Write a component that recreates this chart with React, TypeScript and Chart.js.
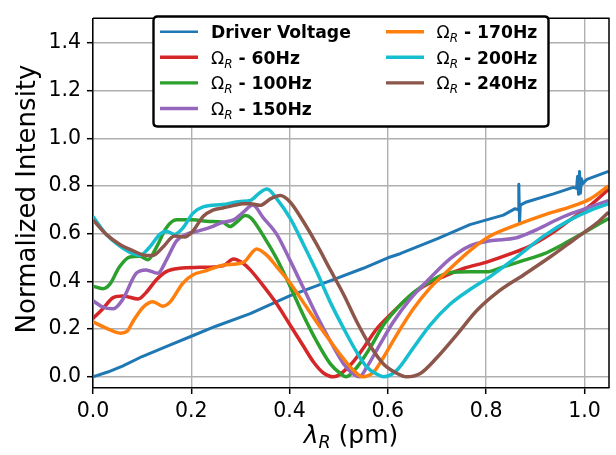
import React, { useEffect, useRef } from 'react';
import { Chart, registerables } from 'chart.js';

Chart.register(...registerables);

// ---- tick labels ----
const X_TICKS = [0, 0.2, 0.4, 0.6, 0.8, 1.0];
const Y_TICKS = [0, 0.2, 0.4, 0.6, 0.8, 1.0, 1.2, 1.4];

// ---- series ----
const driverX = [0, 0.03, 0.06, 0.1, 0.15, 0.2, 0.25, 0.32, 0.4, 0.489, 0.55, 0.6, 0.625, 0.7, 0.767, 0.801, 0.835, 0.859, 0.8655, 0.8665, 0.868, 0.8695, 0.882, 0.937, 0.977, 0.984, 0.986, 0.988, 0.99, 0.992, 0.994, 0.997, 1.005, 1.049];
const driverY = [0.0, 0.02, 0.045, 0.085, 0.128, 0.17, 0.212, 0.265, 0.339, 0.407, 0.455, 0.499, 0.516, 0.578, 0.638, 0.658, 0.678, 0.705, 0.7, 0.807, 0.644, 0.72, 0.733, 0.767, 0.794, 0.79, 0.84, 0.765, 0.861, 0.77, 0.83, 0.81, 0.828, 0.861];

const hz60X = [0, 0.02, 0.041, 0.061, 0.092, 0.108, 0.129, 0.149, 0.176, 0.217, 0.264, 0.286, 0.306, 0.32, 0.347, 0.374, 0.401, 0.428, 0.449, 0.469, 0.489, 0.523, 0.55, 0.577, 0.605, 0.638, 0.672, 0.713, 0.754, 0.801, 0.849, 0.89, 0.93, 0.971, 1.012, 1.049];
const hz60Y = [0.244, 0.285, 0.332, 0.339, 0.326, 0.353, 0.407, 0.441, 0.455, 0.459, 0.465, 0.494, 0.475, 0.448, 0.38, 0.305, 0.217, 0.129, 0.061, 0.016, 0.0, 0.048, 0.12, 0.2, 0.26, 0.325, 0.378, 0.42, 0.454, 0.481, 0.515, 0.549, 0.597, 0.658, 0.719, 0.786];

const hz100X = [0, 0.02, 0.034, 0.054, 0.075, 0.095, 0.112, 0.129, 0.149, 0.17, 0.203, 0.237, 0.264, 0.279, 0.293, 0.31, 0.322, 0.347, 0.374, 0.401, 0.428, 0.455, 0.483, 0.503, 0.515, 0.537, 0.564, 0.591, 0.618, 0.652, 0.686, 0.727, 0.767, 0.801, 0.835, 0.876, 0.917, 0.957, 0.998, 1.049];
const hz100Y = [0.38, 0.369, 0.387, 0.461, 0.502, 0.505, 0.491, 0.543, 0.624, 0.658, 0.658, 0.651, 0.648, 0.63, 0.65, 0.676, 0.665, 0.59, 0.495, 0.38, 0.258, 0.149, 0.054, 0.014, 0.0, 0.04, 0.122, 0.217, 0.285, 0.353, 0.4, 0.437, 0.44, 0.44, 0.461, 0.488, 0.515, 0.556, 0.603, 0.664];

const hz150X = [0, 0.02, 0.041, 0.061, 0.088, 0.108, 0.132, 0.149, 0.17, 0.19, 0.217, 0.244, 0.264, 0.286, 0.306, 0.325, 0.347, 0.374, 0.401, 0.428, 0.455, 0.483, 0.51, 0.53, 0.542, 0.557, 0.584, 0.611, 0.645, 0.686, 0.727, 0.767, 0.808, 0.862, 0.903, 0.957, 1.012, 1.049];
const hz150Y = [0.319, 0.292, 0.285, 0.326, 0.434, 0.448, 0.434, 0.488, 0.57, 0.597, 0.613, 0.631, 0.648, 0.658, 0.69, 0.72, 0.665, 0.597, 0.488, 0.373, 0.258, 0.149, 0.054, 0.011, 0.0, 0.04, 0.136, 0.23, 0.325, 0.414, 0.495, 0.549, 0.57, 0.583, 0.617, 0.671, 0.712, 0.739];

const hz170X = [0, 0.028, 0.056, 0.069, 0.081, 0.102, 0.122, 0.142, 0.156, 0.183, 0.203, 0.231, 0.264, 0.306, 0.333, 0.354, 0.374, 0.401, 0.428, 0.455, 0.483, 0.51, 0.53, 0.548, 0.571, 0.591, 0.618, 0.652, 0.686, 0.727, 0.767, 0.808, 0.862, 0.917, 0.971, 1.012, 1.049];
const hz170Y = [0.23, 0.203, 0.183, 0.19, 0.231, 0.292, 0.315, 0.296, 0.312, 0.393, 0.427, 0.445, 0.468, 0.48, 0.536, 0.509, 0.461, 0.393, 0.312, 0.23, 0.149, 0.075, 0.027, 0.0, 0.02, 0.081, 0.176, 0.285, 0.373, 0.454, 0.529, 0.59, 0.637, 0.678, 0.712, 0.746, 0.8];

const hz200X = [0, 0.027, 0.054, 0.081, 0.095, 0.115, 0.136, 0.149, 0.166, 0.183, 0.203, 0.224, 0.264, 0.3, 0.32, 0.34, 0.354, 0.374, 0.401, 0.428, 0.455, 0.483, 0.51, 0.537, 0.557, 0.578, 0.591, 0.618, 0.652, 0.686, 0.727, 0.767, 0.808, 0.862, 0.917, 0.971, 1.012, 1.049];
const hz200Y = [0.672, 0.597, 0.549, 0.516, 0.509, 0.543, 0.597, 0.61, 0.597, 0.624, 0.685, 0.712, 0.722, 0.735, 0.739, 0.773, 0.787, 0.746, 0.665, 0.556, 0.441, 0.312, 0.203, 0.102, 0.041, 0.011, 0.0, 0.027, 0.122, 0.217, 0.305, 0.366, 0.42, 0.502, 0.59, 0.658, 0.698, 0.725];

const hz240X = [0, 0.027, 0.054, 0.081, 0.108, 0.122, 0.142, 0.166, 0.186, 0.203, 0.224, 0.244, 0.264, 0.306, 0.32, 0.34, 0.361, 0.381, 0.401, 0.428, 0.455, 0.483, 0.51, 0.537, 0.564, 0.591, 0.618, 0.638, 0.666, 0.7, 0.74, 0.781, 0.822, 0.876, 0.93, 0.984, 1.025, 1.049];
const hz240Y = [0.658, 0.597, 0.556, 0.529, 0.509, 0.509, 0.543, 0.59, 0.586, 0.61, 0.672, 0.699, 0.708, 0.725, 0.726, 0.719, 0.746, 0.76, 0.733, 0.651, 0.556, 0.448, 0.345, 0.23, 0.13, 0.054, 0.015, 0.0, 0.014, 0.081, 0.176, 0.278, 0.353, 0.427, 0.502, 0.583, 0.644, 0.69];

const SERIES = [
  { key: 'Driver Voltage', hz: '', xs: driverX, ys: driverY, color: '#1f77b4', width: 3, legendWidth: 2.6, smooth: false },
  { key: '60Hz', hz: '60Hz', xs: hz60X, ys: hz60Y, color: '#d62728', width: 3.5, legendWidth: 3.4, smooth: true },
  { key: '100Hz', hz: '100Hz', xs: hz100X, ys: hz100Y, color: '#2ca02c', width: 3.5, legendWidth: 3.4, smooth: true },
  { key: '150Hz', hz: '150Hz', xs: hz150X, ys: hz150Y, color: '#9467bd', width: 3.5, legendWidth: 3.4, smooth: true },
  { key: '170Hz', hz: '170Hz', xs: hz170X, ys: hz170Y, color: '#ff7f0e', width: 3.5, legendWidth: 3.4, smooth: true },
  { key: '200Hz', hz: '200Hz', xs: hz200X, ys: hz200Y, color: '#17becf', width: 3.5, legendWidth: 3.4, smooth: true },
  { key: '240Hz', hz: '240Hz', xs: hz240X, ys: hz240Y, color: '#8c564b', width: 3.5, legendWidth: 3.4, smooth: true },
];

const FONT = '"DejaVu Sans", sans-serif';

const decorPlugin = {
  id: 'decor',
  afterDraw(chart: any) {
    const ctx: CanvasRenderingContext2D = chart.ctx;
    const a = chart.chartArea;
    ctx.save();
    // top + right spines
    ctx.strokeStyle = '#000';
    ctx.lineWidth = 1.5;
    ctx.beginPath();
    ctx.moveTo(a.left, a.top);
    ctx.lineTo(a.right, a.top);
    ctx.lineTo(a.right, a.bottom);
    ctx.stroke();

    // y-axis title
    ctx.fillStyle = '#000';
    ctx.save();
    ctx.translate(35, 199);
    ctx.rotate(-Math.PI / 2);
    ctx.font = `26px ${FONT}`;
    ctx.textAlign = 'center';
    ctx.textBaseline = 'alphabetic';
    ctx.fillText('Normalized Intensity', 0, 0);
    ctx.restore();

    // x-axis title: λ_R (pm)
    {
      const big = `italic 25px ${FONT}`;
      const sub = `italic 17.5px ${FONT}`;
      const reg = `25px ${FONT}`;
      ctx.font = big; const w1 = ctx.measureText('λ').width;
      ctx.font = sub; const w2 = ctx.measureText('R').width;
      ctx.font = reg; const w3 = ctx.measureText(' (pm)').width;
      const total = w1 + w2 + w3;
      let x = (a.left + a.right) / 2 - total / 2;
      const base = 443;
      ctx.textAlign = 'left';
      ctx.textBaseline = 'alphabetic';
      ctx.font = big; ctx.fillText('λ', x, base); x += w1;
      ctx.font = sub; ctx.fillText('R', x, base + 5); x += w2;
      ctx.font = reg; ctx.fillText(' (pm)', x, base);
    }

    // legend
    const bx = 153.5, by = 16.5, bw = 395, bh = 110, r = 4;
    ctx.beginPath();
    ctx.moveTo(bx + r, by);
    ctx.lineTo(bx + bw - r, by);
    ctx.quadraticCurveTo(bx + bw, by, bx + bw, by + r);
    ctx.lineTo(bx + bw, by + bh - r);
    ctx.quadraticCurveTo(bx + bw, by + bh, bx + bw - r, by + bh);
    ctx.lineTo(bx + r, by + bh);
    ctx.quadraticCurveTo(bx, by + bh, bx, by + bh - r);
    ctx.lineTo(bx, by + r);
    ctx.quadraticCurveTo(bx, by, bx + r, by);
    ctx.closePath();
    ctx.fillStyle = '#fff';
    ctx.fill();
    ctx.lineWidth = 2.4;
    ctx.strokeStyle = '#000';
    ctx.stroke();

    const cols = [
      { lx0: 160, lx1: 198, tx: 211 },
      { lx0: 386, lx1: 424, tx: 436.5 },
    ];
    SERIES.forEach((s, i) => {
      const col = i < 4 ? cols[0] : cols[1];
      const row = i < 4 ? i : i - 4;
      const cy = 31.7 + row * 25.6;
      ctx.strokeStyle = s.color;
      ctx.lineWidth = s.legendWidth;
      ctx.lineCap = 'butt';
      ctx.beginPath();
      ctx.moveTo(col.lx0, cy);
      ctx.lineTo(col.lx1, cy);
      ctx.stroke();
      ctx.fillStyle = '#000';
      ctx.textAlign = 'left';
      ctx.textBaseline = 'alphabetic';
      const base = cy + 6.4;
      let x = col.tx;
      if (!s.hz) {
        ctx.font = `bold 17.2px ${FONT}`;
        ctx.fillText(s.key, x, base);
      } else {
        ctx.font = `17.2px ${FONT}`;
        ctx.fillText('Ω', x, base);
        x += ctx.measureText('Ω').width;
        ctx.font = `italic 12px ${FONT}`;
        ctx.fillText('R', x, base + 4);
        x += ctx.measureText('R').width;
        ctx.font = `bold 17.2px ${FONT}`;
        ctx.fillText(' - ' + s.hz, x, base);
      }
    });
    ctx.restore();
  },
};

export default function App() {
  const ref = useRef<HTMLCanvasElement | null>(null);
  useEffect(() => {
    document.body.style.margin = '0';
    const canvas = ref.current!;
    const n = SERIES.length;
    const chart = new Chart(canvas, {
      type: 'line',
      data: {
        datasets: SERIES.map((s, i) => ({
          label: s.key,
          data: s.xs.map((x, j) => ({ x, y: s.ys[j] })),
          borderColor: s.color,
          backgroundColor: s.color,
          borderWidth: s.width,
          pointRadius: 0,
          fill: false,
          tension: s.smooth ? 0.4 : 0,
          cubicInterpolationMode: s.smooth ? 'monotone' : 'default',
          borderJoinStyle: 'round',
          order: n - i,
        })),
      },
      options: {
        responsive: false,
        animation: false,
        events: [],
        layout: { padding: { left: 0, right: 7, top: 7, bottom: 0 } },
        plugins: {
          legend: { display: false },
          tooltip: { enabled: false },
          title: { display: false },
        },
        scales: {
          x: {
            type: 'linear',
            min: 0,
            max: 1.05,
            afterBuildTicks: (s: any) => { s.ticks = X_TICKS.map((v) => ({ value: v })); },
            afterFit: (s: any) => { s.height = 67; },
            ticks: {
              color: '#000',
              font: { family: FONT, size: 20.5 },
              padding: 5,
              maxRotation: 0,
              autoSkip: false,
              callback: (v: any) => Number(v).toFixed(1),
            },
            grid: {
              color: '#b0b0b0',
              lineWidth: 1.4,
              tickColor: '#000',
              tickLength: 6,
              tickWidth: 1.5,
            },
            border: { display: true, color: '#000', width: 1.5 },
          },
          y: {
            type: 'linear',
            min: -0.047,
            max: 1.503,
            afterBuildTicks: (s: any) => { s.ticks = Y_TICKS.map((v) => ({ value: v })); },
            afterFit: (s: any) => { s.width = 93; },
            ticks: {
              color: '#000',
              font: { family: FONT, size: 20.5 },
              padding: 6,
              autoSkip: false,
              callback: (v: any) => Number(v).toFixed(1),
            },
            grid: {
              color: '#b0b0b0',
              lineWidth: 1.4,
              tickColor: '#000',
              tickLength: 6,
              tickWidth: 1.5,
            },
            border: { display: true, color: '#000', width: 1.5 },
          },
        },
      },
      plugins: [decorPlugin],
    } as any);
    return () => chart.destroy();
  }, []);
  return (
    <div style={{ width: 616, height: 455 }}>
      <canvas ref={ref} width={616} height={455} style={{ display: 'block' }} />
    </div>
  );
}
